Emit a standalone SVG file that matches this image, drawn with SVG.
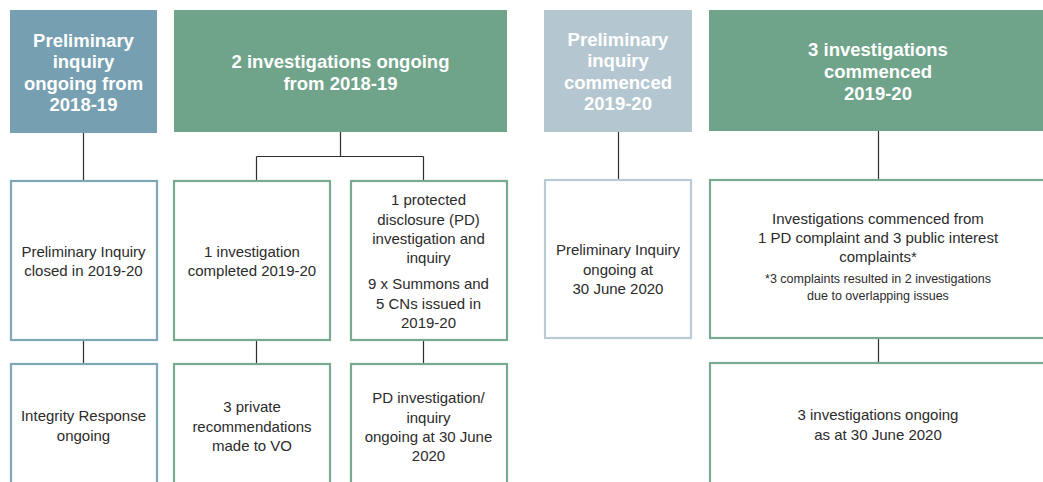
<svg xmlns="http://www.w3.org/2000/svg" width="1043" height="482" viewBox="0 0 1043 482">
  <style>
    .head { font-family: "Liberation Sans", Arial, sans-serif; font-weight: bold; font-size: 18.5px; fill: #ffffff; text-anchor: middle; }
    .body { font-family: "Liberation Sans", Arial, sans-serif; font-size: 15px; fill: #2b2b2b; text-anchor: middle; }
    .note { font-family: "Liberation Sans", Arial, sans-serif; font-size: 12.5px; fill: #2b2b2b; text-anchor: middle; }
    .box { fill: #ffffff; stroke-width: 2.2; }
    .blue { stroke: #7ea7b8; }
    .green { stroke: #78aa92; }
    .pale { stroke: #b8cbd4; }
    .link { fill: none; stroke: #2e2e2e; stroke-width: 1.2; }
  </style>
  <rect width="1043" height="482" fill="#ffffff"/>

  <!-- connectors -->
  <g id="connectors">
    <path class="link" d="M83.5 133 V181 M83.5 340 V364"/>
    <path class="link" d="M340.5 132 V156.5 M256.5 156.5 H423.5 M256.5 156.5 V181 M423.5 156.5 V181 M256.5 340 V364 M423.5 340 V364"/>
    <path class="link" d="M618.5 132 V180"/>
    <path class="link" d="M878.5 131 V180 M878.5 338 V363"/>
  </g>

  <!-- column 1: preliminary inquiry 2018-19 -->
  <g id="head-prelim-1819">
    <rect x="10" y="10" width="147" height="123" fill="#76a0b1"/>
    <text class="head" x="83.5" y="47">Preliminary</text>
    <text class="head" x="83.5" y="68">inquiry</text>
    <text class="head" x="83.5" y="89.5">ongoing from</text>
    <text class="head" x="83.5" y="111">2018-19</text>
  </g>
  <g id="prelim-closed">
    <rect class="box blue" x="11" y="181" width="146" height="159"/>
    <text class="body" x="83.5" y="257">Preliminary Inquiry</text>
    <text class="body" x="83.5" y="275.5">closed in 2019-20</text>
  </g>
  <g id="integrity-response">
    <rect class="box blue" x="11" y="364" width="146" height="140"/>
    <text class="body" x="83.5" y="421">Integrity Response</text>
    <text class="body" x="83.5" y="441">ongoing</text>
  </g>

  <!-- columns 2-3: investigations 2018-19 -->
  <g id="head-invest-1819">
    <rect x="174" y="10" width="333" height="122" fill="#6fa38a"/>
    <text class="head" x="340.5" y="68">2 investigations ongoing</text>
    <text class="head" x="340.5" y="89.5">from 2018-19</text>
  </g>
  <g id="invest-completed">
    <rect class="box green" x="174" y="181" width="156" height="159"/>
    <text class="body" x="252" y="257">1 investigation</text>
    <text class="body" x="252" y="275.5">completed 2019-20</text>
  </g>
  <g id="private-recs">
    <rect class="box green" x="174" y="364" width="156" height="140"/>
    <text class="body" x="252" y="412">3 private</text>
    <text class="body" x="252" y="431.5">recommendations</text>
    <text class="body" x="252" y="451">made to VO</text>
  </g>
  <g id="pd-investigation">
    <rect class="box green" x="351" y="181" width="156" height="159"/>
    <text class="body" x="428.5" y="205">1 protected</text>
    <text class="body" x="428.5" y="224.5">disclosure (PD)</text>
    <text class="body" x="428.5" y="244">investigation and</text>
    <text class="body" x="428.5" y="263">inquiry</text>
    <text class="body" x="428.5" y="289">9 x Summons and</text>
    <text class="body" x="428.5" y="308.5">5 CNs issued in</text>
    <text class="body" x="428.5" y="328">2019-20</text>
  </g>
  <g id="pd-ongoing">
    <rect class="box green" x="351" y="364" width="156" height="140"/>
    <text class="body" x="428.5" y="403">PD investigation/</text>
    <text class="body" x="428.5" y="422.5">inquiry</text>
    <text class="body" x="428.5" y="442">ongoing at 30 June</text>
    <text class="body" x="428.5" y="461">2020</text>
  </g>

  <!-- column 4: preliminary inquiry 2019-20 -->
  <g id="head-prelim-1920">
    <rect x="544" y="10" width="148" height="122" fill="#b4c7d0"/>
    <text class="head" x="618" y="45.5">Preliminary</text>
    <text class="head" x="618" y="66.5">inquiry</text>
    <text class="head" x="618" y="88.5">commenced</text>
    <text class="head" x="618" y="110">2019-20</text>
  </g>
  <g id="prelim-ongoing">
    <rect class="box pale" x="545" y="180" width="146" height="158"/>
    <text class="body" x="618" y="255">Preliminary Inquiry</text>
    <text class="body" x="618" y="274.5">ongoing at</text>
    <text class="body" x="618" y="293.5">30 June 2020</text>
  </g>

  <!-- column 5: investigations 2019-20 -->
  <g id="head-invest-1920">
    <rect x="709" y="10" width="350" height="121" fill="#6fa38a"/>
    <text class="head" x="878" y="55.5">3 investigations</text>
    <text class="head" x="878" y="77.5">commenced</text>
    <text class="head" x="878" y="99.5">2019-20</text>
  </g>
  <g id="invest-commenced">
    <rect class="box green" x="710" y="180" width="350" height="158"/>
    <text class="body" x="878" y="223.5">Investigations commenced from</text>
    <text class="body" x="878" y="242.5">1 PD complaint and 3 public interest</text>
    <text class="body" x="878" y="261.5">complaints*</text>
    <text class="note" x="878" y="282.5">*3 complaints resulted in 2 investigations</text>
    <text class="note" x="878" y="299.5">due to overlapping issues</text>
  </g>
  <g id="invest-ongoing">
    <rect class="box green" x="710" y="363" width="350" height="140"/>
    <text class="body" x="878" y="420">3 investigations ongoing</text>
    <text class="body" x="878" y="440">as at 30 June 2020</text>
  </g>
</svg>
